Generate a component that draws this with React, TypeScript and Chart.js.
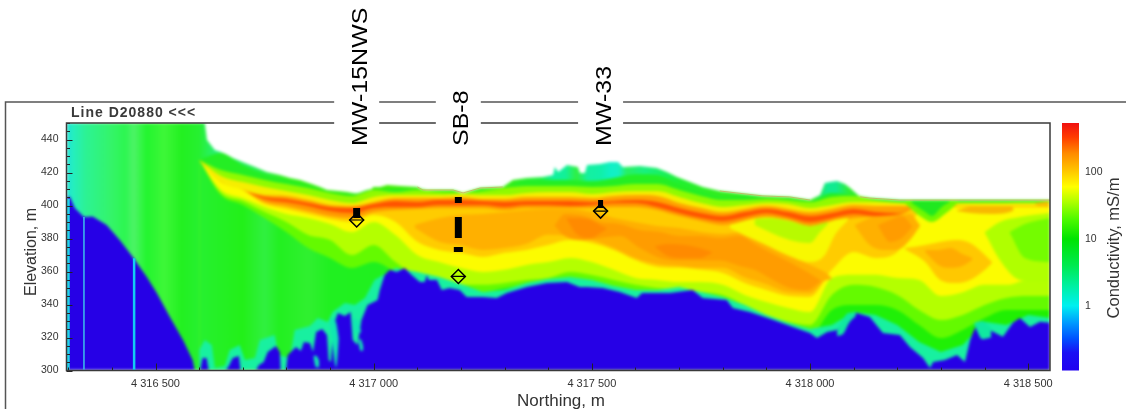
import React, { useEffect, useRef } from "react";
import { Chart, registerables } from "chart.js";

Chart.register(...registerables);

// Northing is stored as metres past 4 316 000 (added back when the datasets are built).
const NORTHING_BASE = 4316000;
const northingMin = 296;
const northingMax = 2550;

const northingGrid = [600,650,700,750,800,850,900,950,1000,1050,1100,1150,1200,1250,1300,1350,1400,1450,1500,1550,1600,1650,1700,1750,1800,1850,1900,1950,2000,2050,2100,2150,2200,2250,2300,2350,2400,2450,2500,2550];

// Elevation of the top of each colour band, for each grid column.
const greenTop = [427.6,431.8,424.5,419,415.5,411.8,408.2,407,410,410,410,408.2,407,409.4,410.6,414.8,415.5,415.5,414.8,416.6,419,418.5,413,408.2,405.2,405.8,404.5,404.5,402.7,407.6,406.3,403.9,402.7,402.7,402.7,402.7,402.7,402.7,402.7,402.7];
const limeTop = [427.6,421.5,418.5,415.5,413,410.6,407.6,405.8,409.4,408.2,409.4,408.2,407.6,408.8,410.6,411.8,411.8,411.8,411.2,411.8,413,413,409.4,405.8,403.3,403.3,403.9,403.3,402.1,405.2,405.8,403.3,402.1,401.8,401.8,401.8,401.8,401.8,401.8,401.8];
const yellowTop = [427.6,417.9,414.2,411.2,408.8,406.3,403.3,401.5,405.2,406.3,406.3,406.3,407,406.3,406.3,407.6,408.2,408.2,407,408.2,408.8,408.8,405.2,401.5,399.1,400.3,401.5,400.9,398.5,400.3,402.1,402.1,401.5,400.9,400.9,401.5,401.5,401.5,401.6,401.6];
const orangeTop = [427.6,414.2,409.4,406.3,405.8,403.3,400.3,399.7,402.1,404.5,404.5,404.5,405.1,403.9,403.9,405.1,405.1,405.1,404.5,405.8,406.3,405.8,401.5,398.5,396,397.9,399.7,397.9,396,397.9,400.3,399.7,399.7,399.7,399.7,399.7,399.7,399.7,399.7,399.7];
const redTop = [427.6,414.2,409.4,405.2,404,401.5,399.1,398.5,400.9,402.7,402.1,403.3,403.3,402.7,402.1,402.7,402.7,402.7,402.1,402.7,403.3,402.1,398.5,395.4,393.6,396,397.9,396,393.6,395.4,397.9,396,395.4,399.7,399.7,399.7,399.7,399.7,399.7,399.7];
const redBottom = [427.6,414.2,409.4,404,402.1,399.7,396.6,395.4,398.5,399.1,399.1,400.3,400.3,400.3,399.1,400.3,400.3,399.7,400.3,401.5,401.5,399.1,395.4,392.4,390.6,393,395.4,393,390,392.4,394.8,393.6,394.8,399.7,399.7,399.7,399.7,399.7,399.7,399.7];
const amberTop = [427.6,414.2,409.4,402.1,399.7,396.6,393.6,392.4,396,397.3,397.9,398.5,398.5,398.5,397.3,398.5,398.5,398.5,398.5,399.1,399.1,397.3,393.6,390.6,388.2,390.6,393,391.2,387.6,390,392.4,393,393.6,399.4,399.4,399.4,399.4,399.4,399.4,399.4];
const lowerYellowTop = [427.6,414.2,409.4,400.9,397.9,394.8,391.8,390,394.2,390,378,373.1,371.3,368.8,371.3,373.1,376.1,379.1,377.3,373.1,367,362.8,362.2,361,359.1,353,348.8,345.2,344.6,361,371.8,368.2,371.8,396,399.1,399.1,399.1,399.1,399.1,399.1];
const yellowGreenTop = [427.6,409.4,404.5,399.1,394.8,392.4,388.8,383.9,390,382.1,370,365.7,362.1,359.7,361,364,365.7,368.2,365.7,361,356.1,354.9,353.6,353.6,351.9,345.8,341.5,337.9,335.4,356.1,358,358,356,354.9,345.1,347.5,351.9,351.9,354.9,354.9];
const lowerLimeTop = [427.6,407.6,402.7,396,390,382.1,379.1,370,376.1,365.7,357.3,354.9,351.9,351.9,353,354.9,356.1,359.7,357.9,354.9,351.9,350,348.8,347.6,345.8,339.7,333.7,329.5,327.6,345.8,351.9,350.6,345.8,336.7,330.6,333.7,339.7,344,345.2,345.2];
const lowerGreenTop = [427.6,406.3,400.3,392.4,383.9,374.2,368.2,362.1,365.7,359.7,352.4,350.6,348.8,347.6,350,351.9,353,353.6,353.6,350,347.6,345.8,344.6,344,340.9,333.7,327.6,323.4,321.6,336.7,339.7,339.7,336.7,327.6,319.7,324.6,331.8,336.7,336.7,336.7];

// Top of the teal fringe above the lowest class, [northing, elevation].
const tealTop = [[600,312.4],[613,318.5],[629,315.4],[636,301.5],[659,302.7],[670,312.4],[693,315.4],[705,306.3],[728,307.6],[739,318.5],[773,321.5],[782,309.4],[808,307.6],[819,324.5],[854,327],[872,331.8],[895,329.4],[906,335.4],[934,340.9],[957,339.7],[980,343.9],[1002,354.8],[1050,362.1],[1100,359.7],[1150,356.6],[1200,352.4],[1250,347.6],[1300,348.8],[1350,353],[1400,355.4],[1450,356.6],[1500,354.9],[1550,351.2],[1600,348.8],[1650,348.8],[1700,350.6],[1750,347.6],[1800,344.6],[1850,339.7],[1900,333.7],[1950,328.9],[2000,325.2],[2050,327.6],[2100,335.4],[2150,333.7],[2200,327.6],[2250,317.3],[2300,311.2],[2350,315.5],[2400,329.5],[2450,327.6],[2500,333.7],[2550,331.8]];

// Upper surface of the section, [northing, elevation].
const surface = [[296,452],[600,452],[613,450],[618,439.7],[636,433.6],[650,432.4],[677,428.8],[705,425.8],[728,423.3],[755,420.3],[785,418.5],[808,416.6],[831,415.5],[858,413],[877,411.2],[893,409.4],[918,408.8],[939,408.2],[964,407],[985,406.3],[999,411.2],[1015,411.2],[1031,412.4],[1061,411.8],[1100,411.2],[1113,409.4],[1152,409.4],[1182,409.4],[1205,407.6],[1244,410.6],[1296,411.2],[1319,415.5],[1351,416.6],[1388,417.3],[1411,418.5],[1415,423.3],[1423,420.3],[1443,424.5],[1468,423.3],[1473,419.7],[1484,419.7],[1489,424.5],[1519,425.1],[1541,426.4],[1560,426.4],[1571,423.3],[1610,423.9],[1649,422.7],[1672,420.3],[1695,417.3],[1725,414.2],[1754,411.2],[1793,408.8],[1832,407.6],[1892,405.8],[1953,405.2],[2000,403.3],[2023,406.3],[2034,413.6],[2046,414.2],[2062,414.8],[2080,413],[2092,410.6],[2115,405.2],[2137,404.5],[2206,403.3],[2550,403.3]];
const rimWest = [[1100,411.2],[1113,409.4],[1152,409.4],[1182,409.4],[1205,407.6],[1244,410.6],[1296,411.2]];
const rimEast = [[1793,408.8],[1832,407.6],[1892,405.8],[1953,405.2],[2000,403.3]];
const rimFar = [[2115,405.2],[2137,404.5],[2206,403.3],[2550,403.3]];

// Top of the lowest conductivity class, [northing, elevation].
const resistiveTop = [[296,405.1],[304,405.1],[315,398.5],[336,393],[356,393.3],[388,388.2],[418,379.1],[448,368.8],[480,356.6],[503,347],[533,332.4],[563,318.5],[585,306.4],[590,300],[602,300],[608,307.6],[617,307.6],[622,300],[661,300],[668,302.7],[677,307.6],[691,308.8],[695,300],[730,300],[737,303.3],[748,305.1],[757,311.2],[776,314.9],[785,311.2],[787,300],[799,300],[803,309.4],[822,314.3],[833,311.8],[840,317.3],[854,316.7],[861,311.2],[868,323.3],[882,325.2],[893,321.5],[897,306.4],[902,305.2],[908,327.6],[918,334.8],[934,333],[947,335.4],[952,318.5],[963,315.5],[972,330.6],[986,339.7],[1000,341.5],[1009,342.7],[1014,348.8],[1025,357.9],[1037,361],[1053,359.7],[1071,362.1],[1087,357.9],[1106,353.6],[1117,353.6],[1122,357.9],[1126,354.9],[1145,354.9],[1156,348.8],[1174,350],[1197,348.8],[1213,344.6],[1250,344.6],[1282,344],[1305,347],[1351,350.6],[1397,353],[1443,353.6],[1472,350.6],[1489,350.6],[1525,350],[1564,347.6],[1603,344],[1615,347],[1679,347],[1731,348.8],[1754,344],[1809,342.7],[1823,337.9],[1862,335.4],[1915,330.7],[1961,326.3],[2000,322.8],[2016,319.7],[2039,323.3],[2062,324.6],[2084,332.4],[2107,334.9],[2137,332.4],[2167,322.8],[2206,321.5],[2229,314.3],[2259,307.6],[2275,301.5],[2282,305.1],[2309,306.4],[2337,309.4],[2355,305.1],[2367,318.5],[2373,322.8],[2385,329.5],[2412,324.6],[2442,320.4],[2465,328.9],[2481,331.8],[2504,326.3],[2527,329.5],[2550,328.9]];

// Enclosed zones, [northing, top elevation, bottom elevation].
const bodyOrange = [[1094,388.2,386.4],[1152,392.4,377.9],[1197,394.2,376.1],[1250,394.8,373.1],[1300,396,374.2],[1349,397.3,376.6],[1399,397.9,382.3],[1449,397.9,381.5],[1500,396,379.1],[1550,392.4,374.2],[1598,390,368.2],[1649,387.6,364.6],[1700,386.3,363.4],[1750,383.9,362.2],[1800,382.7,362.2],[1848,383.9,356.7],[1899,376.1,352.5],[1949,369.4,347.6],[2000,364,347],[2034,359.7,354.4],[2050,356.1,355.5]];
const bodyDeep = [[1415,388.2,387.6],[1438,394.8,381.5],[1484,393.6,379.1],[1519,390,380.3],[1564,388.8,381.5],[1610,385.2,374.2],[1656,384,368.2],[1702,381.5,366.7],[1748,381.5,366.7],[1793,380.3,366.7],[1839,381.5,363.4],[1873,376.7,361],[1907,371.8,356.1],[1953,365.8,350],[1994,359.7,348.8],[2023,354.9,353.6]];
const coreWest = [[1442,392.4,391.8],[1465,392.4,382.7],[1497,391.2,380.3],[1523,387.6,383.9],[1534,386.4,385.8]];
const coreEast = [[1645,375.4,374.8],[1674,376.7,369.4],[1713,376.1,368.2],[1748,374.2,368.2],[1775,371.8,371.2]];
const holeYellow = [[1816,388.2,386.4],[1848,390.6,382.1],[1899,393,376.1],[1949,391.2,370],[2000,387.6,365.7],[2034,389.4,370],[2057,391.2,382.1],[2087,392.4,391.2]];
const holeGreen = [[1873,391.8,388.2],[1907,392.4,383.9],[1953,390.6,379.1],[2000,387.6,377.3],[2023,388.8,383.9],[2041,390,388.8]];
const rightOrange = [[2103,388.2,387.6],[2137,392.4,376.1],[2172,393.6,373.1],[2199,393.6,373.1],[2229,394.8,379.1],[2252,388.2,387.6]];
const rightDeep = [[2156,388.2,387.6],[2183,391.2,377.9],[2211,393.6,380.3],[2234,387.6,387]];
const lowerAmber = [[2217,374.2,373.6],[2264,376.1,365.7],[2298,377.9,354.9],[2333,379.1,353],[2367,377.3,354.9],[2401,370,361],[2417,365.7,365.1]];
const lowerOrange = [[2264,373.1,371.8],[2294,373.1,364],[2322,374.2,362.2],[2349,370.6,363.4],[2372,368.2,367]];
const stripMid = [[2337,397.3,396.7],[2367,399.1,395.5],[2412,399.7,394.8],[2458,399.7,396],[2467,397.9,397.3]];
const stripEnd = [[2515,401.5,400.9],[2531,402.1,399.1],[2547,402.7,399.7]];
const eastYellowGreen = [[2401,384,383.3],[2435,390,367],[2481,393,354.9],[2550,395.4,353.6]];
const eastLime = [[2458,384,383.3],[2492,388.8,368.2],[2550,392.4,365.7]];
const notchLime = [[2217,402.7,401.5],[2252,402.7,393.6],[2279,402.7,390],[2309,402.7,394.8],[2339,402.7,401.5]];
const notchGreen = [[2233,402.7,401.5],[2264,402.7,396],[2279,402.7,393.6],[2302,402.7,399.1],[2320,402.7,402.1]];
const tealPatchA = [[899,332,331],[906,332,315],[914,329,302],[920,320,318]];
const tealPatchB = [[952,333,331],[958,331,322],[965,330,323],[971,324,323]];
const tealPatchC = [[965,319,318],[970,319,312],[976,315,312]];
const tealPatchD = [[862,309,308],[868,309,302],[875,306,302]];
const tealPatchE = [[2062,324,321],[2075,331,322],[2090,335,329],[2105,335,333]];
const tealPatchF = [[2376,329,328],[2395,330,319],[2415,326,320]];

// Wells.
const wellLabels = ["MW-15NWS", "SB-8", "MW-33"];
const wellNorthing = [961, 1194, 1520];
const wellMarkerElevation = [391.2, 357, 396.6];
const wellScreens = [[961, 398.5, 392.4, 7],[1194, 405.2, 401.5, 7],[1194, 393, 380.3, 7],[1194, 374.8, 371.8, 9],[1520, 403.3, 398.5, 5]];

// Vertical data gaps, [northing, top elevation, width, colour].
const gapLines = [[300, 404, 3, "#22d4e8"],[336, 393, 1.5, "#3cc0ea"],[451, 368, 2.5, "#12cdf2"]];

// Colour key.
const keyValues = [0.108,0.2,0.32,0.55,1,2,4,10,20,38,60,110,190,330,538];
const keyColors = ["#2000f0","#1a10f4","#0050ff","#0098ff","#00f0f0","#00f0a0","#00ea50","#00e400","#50fa00","#b8ff00","#ffff00","#ffc000","#ff8a00","#ff3c00","#f01010"];

const surfaceStops = [[296,"#1fe0d8"],[310,"#24eec0"],[340,"#2cf294"],[400,"#34f468"],[430,"#2cf650"],[450,"#4cf466"],[480,"#22f52e"],[520,"#3ef738"],[560,"#22f020"],[600,"#26f030"],[640,"#28f078"],[740,"#28f050"],[800,"#30f018"],[1000,"#40f000"],[1300,"#38ee10"],[1380,"#20f040"],[1412,"#10f0a0"],[1440,"#12f098"],[1465,"#30f040"],[1490,"#14f0a0"],[1520,"#10f0a8"],[1545,"#10f0c8"],[1562,"#14f0c0"],[1580,"#28f060"],[1620,"#18f080"],[1660,"#18f060"],[1700,"#20f030"],[1780,"#30ee20"],[2000,"#40ee10"],[2040,"#10ea90"],[2060,"#10ea90"],[2090,"#30ee30"],[2550,"#60f000"]];
const deepStops = [[296,"#1fe0d8"],[310,"#24eec0"],[340,"#2cf294"],[400,"#34f468"],[430,"#2cf650"],[450,"#4cf466"],[480,"#22f52e"],[520,"#3ef738"],[560,"#22f020"],[600,"#26f030"],[700,"#22f018"],[750,"#30f040"],[785,"#22f020"],[850,"#30f030"],[900,"#20f020"],[2550,"#20f000"]];

const toPoints = (xs, ys) => xs.map((x, i) => ({ x: x + NORTHING_BASE, y: ys[i] }));
const pairsToPoints = (rows) => rows.map((r) => ({ x: r[0] + NORTHING_BASE, y: r[1] }));

const gradientFill = (stops) => (ctx) => {
  const chart = ctx.chart;
  const xs = chart.scales && chart.scales.x;
  if (!xs || !chart.chartArea) return stops[0][1];
  const g = chart.ctx.createLinearGradient(xs.left, 0, xs.right, 0);
  const span = northingMax - northingMin;
  stops.forEach(([n, c]) => g.addColorStop((n - northingMin) / span, c));
  return g;
};

const paintOrder = [
  { points: pairsToPoints(surface), color: gradientFill(surfaceStops) },
  { ys: greenTop, color: "#24ee24" },
  { ys: limeTop, color: "#90fa00" },
  { ys: yellowTop, color: "#f6ee00" },
  { ys: orangeTop, color: "#ffa200" },
  { ys: redTop, color: "#ff5200" },
  { ys: redBottom, color: "#ff9800" },
  { ys: amberTop, color: "#ffcc00" },
  { ys: lowerYellowTop, color: "#fcfc00" },
  { ys: yellowGreenTop, color: "#b4ff00" },
  { ys: lowerLimeTop, color: "#64fa00" },
  { ys: lowerGreenTop, color: gradientFill(deepStops) },
  { points: pairsToPoints(tealTop), color: "#18f0a0" },
  { points: pairsToPoints(resistiveTop), color: "#2600e6" },
  { zone: bodyOrange, color: "#ffb000" },
  { zone: bodyDeep, color: "#ff9c00" },
  { zone: coreWest, color: "#ff8a00" },
  { zone: coreEast, color: "#ff8a00" },
  { zone: holeYellow, color: "#f8f800" },
  { zone: holeGreen, color: "#b8fa00" },
  { zone: rightOrange, color: "#ffb000" },
  { zone: rightDeep, color: "#ff9c00" },
  { zone: lowerAmber, color: "#ffc800" },
  { zone: lowerOrange, color: "#ffac00" },
  { zone: stripMid, color: "#f8b800" },
  { zone: stripEnd, color: "#f8c000" },
  { zone: eastYellowGreen, color: "#b0ff00" },
  { zone: eastLime, color: "#74fc00" },
  { zone: notchLime, color: "#70f800" },
  { zone: notchGreen, color: "#20e820" },
  { zone: tealPatchA, color: "#10e8b0" },
  { zone: tealPatchB, color: "#10e8b0" },
  { zone: tealPatchC, color: "#10e8b0" },
  { zone: tealPatchD, color: "#10e8b0" },
  { zone: tealPatchE, color: "#10e8a0" },
  { zone: tealPatchF, color: "#10e8a0" },
];

const hidden = { borderWidth: 0, pointRadius: 0 };
const smooth = { cubicInterpolationMode: "monotone" };

function buildDatasets() {
  const markers = [];
  wellScreens.forEach(([n, top, bottom, w]) => {
    markers.push({ data: [{ x: n + NORTHING_BASE, y: top }, { x: n + NORTHING_BASE, y: bottom }], borderColor: "#000", borderWidth: w, pointRadius: 0, fill: false });
  });
  const markerPts = toPoints(wellNorthing, wellMarkerElevation);
  markers.push({ data: markerPts, showLine: false, pointStyle: "rectRot", pointRadius: 7, pointBorderColor: "#000", pointBorderWidth: 1.5, pointBackgroundColor: "rgba(0,0,0,0)", fill: false });
  markers.push({ data: markerPts, showLine: false, pointStyle: "line", pointRadius: 7, pointBorderColor: "#000", pointBorderWidth: 1.2, fill: false });
  gapLines.forEach(([n, top, w, c]) => {
    markers.push({ data: [{ x: n + NORTHING_BASE, y: 300 }, { x: n + NORTHING_BASE, y: top }], borderColor: c, borderWidth: w, pointRadius: 0, fill: false });
  });
  [rimWest, rimEast, rimFar].forEach((rim) => {
    markers.push({ data: pairsToPoints(rim), borderColor: "rgba(200,170,90,0.75)", borderWidth: 1, pointRadius: 0, fill: false });
  });
  const layers = [];
  for (let i = paintOrder.length - 1; i >= 0; i--) {
    const item = paintOrder[i];
    if (item.zone) {
      layers.push({ ...hidden, ...smooth, data: item.zone.map((r) => ({ x: r[0] + NORTHING_BASE, y: r[1] })), fill: "+1", backgroundColor: item.color });
      layers.push({ ...hidden, ...smooth, data: item.zone.map((r) => ({ x: r[0] + NORTHING_BASE, y: r[2] })), fill: false });
    } else if (item.points) {
      layers.push({ ...hidden, tension: 0, data: item.points, fill: "start", backgroundColor: item.color });
    } else {
      layers.push({ ...hidden, ...smooth, data: toPoints(northingGrid, item.ys), fill: "start", backgroundColor: item.color });
    }
  }
  return [...markers, ...layers];
}

const softenPlugin = {
  id: "soften",
  beforeDraw(chart) {
    const c = chart.ctx;
    c.save();
    c.fillStyle = "#fff";
    c.fillRect(0, 0, chart.width, chart.height);
    c.restore();
  },
  beforeDatasetsDraw(chart) {
    const { ctx, chartArea: a, canvas } = chart;
    ctx.save();
    ctx.beginPath();
    ctx.rect(a.left, a.top, a.right - a.left, a.bottom - a.top);
    ctx.clip();
    ctx.filter = "blur(1.5px)";
    ctx.drawImage(canvas, 0, 0);
    ctx.restore();
  },
};

const furniturePlugin = {
  id: "furniture",
  afterDraw(chart) {
    const { ctx, chartArea: a, scales } = chart;
    const { x, y, c } = scales;
    ctx.save();
    // Colour key.
    const kTop = c.getPixelForValue(keyValues[keyValues.length - 1]);
    const kBot = c.getPixelForValue(keyValues[0]);
    const g = ctx.createLinearGradient(0, kBot, 0, kTop);
    keyValues.forEach((v, i) => g.addColorStop((kBot - c.getPixelForValue(v)) / (kBot - kTop), keyColors[i]));
    ctx.fillStyle = g;
    ctx.fillRect(a.right + 12, kTop, 17, kBot - kTop);

    // Inward ticks.
    ctx.strokeStyle = "#222";
    ctx.lineWidth = 1;
    x.ticks.forEach((t) => {
      const px = Math.round(x.getPixelForValue(t.value)) + 0.5;
      ctx.beginPath();
      ctx.moveTo(px, a.bottom);
      ctx.lineTo(px, a.bottom - (t.value % 500 === 0 ? 7 : 3));
      ctx.stroke();
    });
    y.ticks.forEach((t) => {
      const py = Math.round(y.getPixelForValue(t.value)) + 0.5;
      ctx.beginPath();
      ctx.moveTo(a.left, py);
      ctx.lineTo(a.left + (t.value % 20 === 0 ? 6 : 3.5), py);
      ctx.stroke();
    });

    // Plot box and outer frame.
    ctx.strokeStyle = "#3a3a3a";
    ctx.lineWidth = 1.5;
    ctx.strokeRect(a.left, a.top, a.right - a.left, a.bottom - a.top);
    ctx.strokeStyle = "#555";
    ctx.beginPath();
    ctx.moveTo(5.5, 409);
    ctx.lineTo(5.5, 102);
    ctx.lineTo(1126, 102);
    ctx.stroke();

    // Section title.
    ctx.fillStyle = "#3a3a3a";
    ctx.font = "bold 14px 'Liberation Sans'";
    ctx.textAlign = "left";
    ctx.textBaseline = "alphabetic";
    ctx.letterSpacing = "1px";
    ctx.fillText("Line D20880 <<<", 71, 117);
    ctx.letterSpacing = "0px";

    // Axis titles.
    ctx.fillStyle = "#333";
    ctx.textAlign = "center";
    ctx.font = "17px 'Liberation Sans'";
    ctx.fillText("Northing, m", 561, 406);
    ctx.save();
    ctx.translate(36, 252);
    ctx.rotate(-Math.PI / 2);
    ctx.font = "16px 'Liberation Sans'";
    ctx.fillText("Elevation, m", 0, 0);
    ctx.restore();
    ctx.save();
    ctx.translate(1119, 248);
    ctx.rotate(-Math.PI / 2);
    ctx.font = "16.5px 'Liberation Sans'";
    ctx.fillText("Conductivity, mS/m", 0, 0);
    ctx.restore();

    // Well names with their white gaps.
    wellLabels.forEach((label, i) => {
      const px = x.getPixelForValue(wellNorthing[i] + NORTHING_BASE);
      ctx.fillStyle = "#fff";
      ctx.fillRect(px - 22.5, 0, 45, 150);
      ctx.save();
      ctx.translate(px + 10, 146);
      ctx.rotate(-Math.PI / 2);
      ctx.scale(1, 0.9);
      ctx.textAlign = "left";
      ctx.font = "25px 'Liberation Sans'";
      ctx.fillStyle = "#000";
      ctx.fillText(label, 0, 0);
      ctx.restore();
    });
    ctx.restore();
  },
};

export default function App() {
  const ref = useRef(null);
  useEffect(() => {
    const chart = new Chart(ref.current, {
      type: "line",
      data: { datasets: buildDatasets() },
      plugins: [softenPlugin, furniturePlugin],
      options: {
        animation: false,
        responsive: false,
        devicePixelRatio: 1,
        layout: { padding: { left: 19, top: 123, right: 0, bottom: 0 } },
        plugins: { legend: { display: false }, tooltip: { enabled: false }, filler: { drawTime: "beforeDatasetsDraw", propagate: false } },
        scales: {
          x: {
            type: "linear",
            min: northingMin + NORTHING_BASE,
            max: northingMax + NORTHING_BASE,
            grid: { display: false, drawTicks: false },
            border: { display: false },
            afterFit: (s) => { s.height = 38.5; s.paddingLeft = 0; s.paddingRight = 0; },
            ticks: {
              stepSize: 100,
              includeBounds: false,
              autoSkip: false,
              maxRotation: 0,
              padding: 7,
              color: "#333",
              font: { family: "'Liberation Sans'", size: 11 },
              callback: (v) => {
                if (v % 500 !== 0) return "";
                const s = String(v);
                return `${s.slice(0, 1)} ${s.slice(1, 4)} ${s.slice(4)}`;
              },
            },
          },
          y: {
            min: 300,
            max: 450,
            grid: { display: false, drawTicks: false },
            border: { display: false },
            afterFit: (s) => { s.width = 47.5; s.paddingTop = 0; s.paddingBottom = 0; },
            ticks: {
              stepSize: 5,
              autoSkip: false,
              padding: 8,
              color: "#333",
              font: { family: "'Liberation Sans'", size: 10.5 },
              callback: (v) => (v % 20 === 0 && v < 450 ? String(v) : ""),
            },
          },
          c: {
            type: "logarithmic",
            position: "right",
            min: 0.108,
            max: 538,
            grid: { display: false, drawTicks: false },
            border: { display: false },
            afterFit: (s) => { s.width = 76; s.paddingTop = 0; s.paddingBottom = 0; },
            afterBuildTicks: (s) => { s.ticks = [{ value: 1 }, { value: 10 }, { value: 100 }]; },
            ticks: { padding: 35, color: "#333", font: { family: "'Liberation Sans'", size: 10.5 }, callback: (v) => String(v) },
          },
        },
      },
    });
    return () => chart.destroy();
  }, []);
  return (
    <div style={{ position: "absolute", left: 0, top: 0, width: 1126, height: 409 }}>
      <canvas ref={ref} width={1126} height={409} style={{ display: "block" }} />
    </div>
  );
}
